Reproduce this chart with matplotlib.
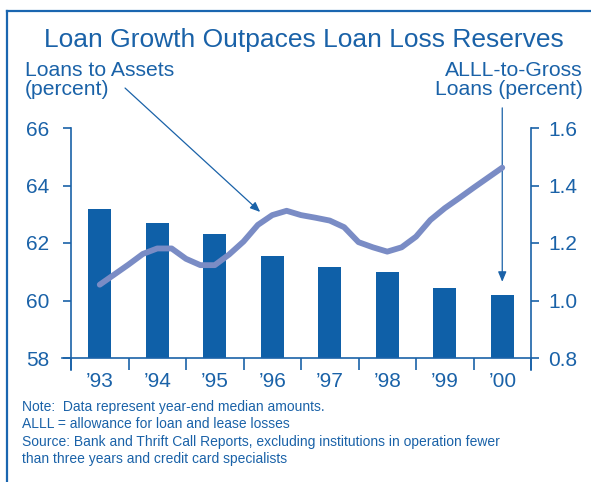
import numpy as np
import matplotlib.pyplot as plt
from matplotlib.lines import Line2D

plt.rcParams['font.family'] = ['Liberation Sans', 'DejaVu Sans']

# year-end ALLL-to-gross loans (percent), bars on the right scale
years = ["\u201993", "\u201994", "\u201995", "\u201996", "\u201997", "\u201998", "\u201999", "\u201900"]
alll = [1.32, 1.27, 1.23, 1.155, 1.115, 1.10, 1.045, 1.02]

# quarterly loans-to-assets (percent), starting at year-end 1993
loans = [60.55, 60.9, 61.25, 61.62, 61.81, 61.81, 61.45, 61.23, 61.23,
         61.6, 62.05, 62.63, 62.97, 63.12, 62.97, 62.88, 62.78, 62.55,
         62.03, 61.85, 61.70, 61.85, 62.22, 62.80, 63.21, 63.56, 63.92,
         64.27, 64.62]

left_ticks = [58, 60, 62, 64, 66]
right_ticks = [0.8, 1.0, 1.2, 1.4, 1.6]

blue = '#1a62a8'
bar_blue = '#0f60a8'
line_blue = '#7a8cc5'

fig = plt.figure(figsize=(5.91, 4.82), dpi=100)
ax = fig.add_axes([71/591, 1 - 358/482, 460/591, 230/482])
ax2 = ax.twinx()

x = np.arange(len(years))
xq = np.arange(len(loans)) / 4

ax2.bar(x, alll, width=0.4, color=bar_blue)
ax.plot(xq, loans, color=line_blue, lw=4.2, solid_capstyle='round',
        solid_joinstyle='round')

# line above the bars
ax.set_zorder(ax2.get_zorder() + 1)
ax.patch.set_visible(False)

ax.set_xlim(-0.5, len(years) - 0.5)
ax.set_ylim(58, 66)
ax2.set_ylim(0.8, 1.6)

for a in (ax, ax2):
    for s in a.spines.values():
        s.set_visible(False)

ax.set_yticks(left_ticks)
ax.set_yticklabels([str(v) for v in left_ticks])
ax2.set_yticks(right_ticks)
ax2.set_yticklabels([f"{v:.1f}" for v in right_ticks])
ax.tick_params(axis='y', direction='out', length=5.8, width=1.2, color=blue,
               labelcolor=blue, labelsize=15, pad=10)
ax2.tick_params(axis='y', direction='out', length=5.8, width=1.2, color=blue,
                labelcolor=blue, labelsize=15, pad=6.5)

ax.set_xticks(x)
ax.set_xticklabels(years)
ax.set_xticks(np.arange(len(years) + 1) - 0.5, minor=True)
ax.tick_params(axis='x', which='major', length=0, labelcolor=blue,
               labelsize=15, pad=10)
ax.tick_params(axis='x', which='minor', direction='out', length=8.6,
               width=1.2, color=blue)

# axis lines, drawn past the plot area
tr = ax.transAxes
for xs, ys in [([0, 0], [1, -12/230]), ([1, 1], [1, -12/230]),
               ([-9/460, 1], [0, 0])]:
    ax.add_line(Line2D(xs, ys, transform=tr, color=blue, lw=1.2,
                       clip_on=False))

# arrows pointing from the axis titles to their series
arrow = dict(arrowstyle='-|>,head_length=0.6,head_width=0.25', color=blue,
             lw=0.9, shrinkA=0, shrinkB=0)
ax.annotate('', xy=(2.79, 63.08), xytext=(0.44, 67.39), arrowprops=arrow,
            annotation_clip=False)
ax2.annotate('', xy=(7, 1.065), xytext=(7, 1.67), arrowprops=arrow,
             annotation_clip=False)

fig.text(304/591, 1 - 47/482, 'Loan Growth Outpaces Loan Loss Reserves',
         ha='center', va='baseline', fontsize=19, color=blue)
fig.text(25/591, 1 - 61/482, 'Loans to Assets\n(percent)', ha='left',
         va='top', fontsize=15.2, color=blue, linespacing=1.02,
         ma='left')
fig.text(583/591, 1 - 61/482, 'ALLL-to-Gross\nLoans (percent)', ha='right',
         va='top', fontsize=15.2, color=blue, linespacing=1.02,
         ma='right')

notes = ("Note:  Data represent year-end median amounts.\n"
         "ALLL = allowance for loan and lease losses\n"
         "Source: Bank and Thrift Call Reports, excluding institutions in operation fewer\n"
         "than three years and credit card specialists")
fig.text(22/591, 1 - 400/482, notes, ha='left', va='top', fontsize=10,
         color=blue, linespacing=1.3)

# frame on top and left
border = '#1a66b0'
fig.add_artist(Line2D([7/591, 1], [1 - 11/482, 1 - 11/482],
                      transform=fig.transFigure, color=border, lw=1.6))
fig.add_artist(Line2D([7/591, 7/591], [0, 1 - 11/482],
                      transform=fig.transFigure, color=border, lw=1.6))

fig.savefig('out.png', dpi=100)
